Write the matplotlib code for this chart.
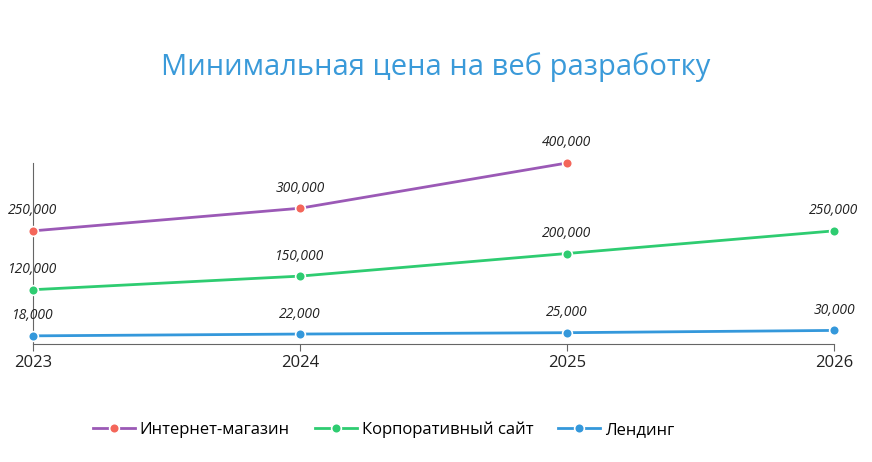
import matplotlib
matplotlib.use("Agg")
import matplotlib.pyplot as plt

plt.rcParams['font.family'] = ['Open Sans', 'DejaVu Sans']

years = ["2023", "2024", "2025", "2026"]
shop = [250000, 300000, 400000]
corp = [120000, 150000, 200000, 250000]
landing = [18000, 22000, 25000, 30000]
labels = ["Интернет-магазин", "Корпоративный сайт", "Лендинг"]

fig = plt.figure(figsize=(8.72, 4.62), dpi=100)
ax = fig.add_axes([33/872, 118/462, 801/872, 181/462])
series = [(shop, "#9b59b6", "#f4665a"), (corp, "#2ecc71", "#2ecc71"), (landing, "#3498db", "#3498db")]
for (vals, lc, mc), lab in zip(series, labels):
    x = list(range(len(vals)))
    ax.plot(x, vals, color=lc, lw=2, marker="o", ms=7, mfc=mc, mec="white", mew=1.2, label=lab, clip_on=False, zorder=3)
    for xi, v in zip(x, vals):
        ax.annotate(f"{v:,}", (xi, v), xytext=(0, 9), textcoords="offset points", ha="center", va="bottom",
                    fontsize=10, style="italic", color="#222222")
ax.set_xlim(0, 3)
ax.set_ylim(0, 400000)
ax.set_yticks([])
ax.set_xticks(range(4))
ax.set_xticklabels(years, fontsize=12, color="#222222")
ax.tick_params(axis="x", length=5, color="#666666", pad=3)
for s in ["top", "right"]:
    ax.spines[s].set_visible(False)
ax.spines["left"].set_color("#666666")
ax.spines["bottom"].set_color("#666666")
fig.text(0.5, 0.855, "Минимальная цена на веб разработку", ha="center", va="center", fontsize=21, color="#3a9ad9")
fig.legend(loc="center", bbox_to_anchor=(0.44, 0.07), ncol=3, frameon=False, fontsize=12, handlelength=2.5,
           columnspacing=1.5, handletextpad=0.3)
fig.savefig("out.png", dpi=100)
